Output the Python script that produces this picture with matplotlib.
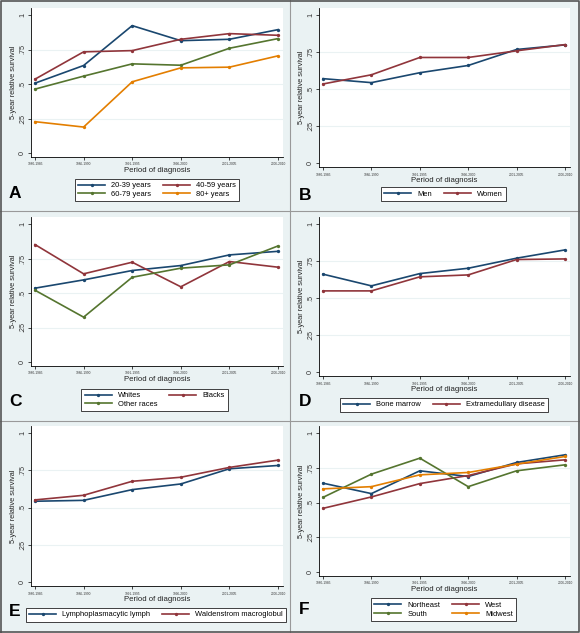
import matplotlib
matplotlib.use("Agg")
import matplotlib.pyplot as plt
from matplotlib.lines import Line2D

plt.rcParams["font.family"] = ["Liberation Sans", "DejaVu Sans"]

periods = ["1980-1985", "1986-1990", "1991-1995", "1996-2000", "2001-2005", "2006-2010"]
ytick_vals = [0, 0.25, 0.5, 0.75, 1]
ytick_labels = ["0", ".25", ".5", ".75", "1"]

# Panel A: age
a_labels = ["20-39 years", "40-59 years", "60-79 years", "80+ years"]
a_20_39 = [0.506, 0.634, 0.923, 0.814, 0.824, 0.894]
a_40_59 = [0.535, 0.733, 0.742, 0.824, 0.865, 0.853]
a_60_79 = [0.463, 0.557, 0.646, 0.636, 0.759, 0.829]
a_80 = [0.227, 0.188, 0.516, 0.617, 0.622, 0.704]

# Panel B: sex
b_labels = ["Men", "Women"]
b_men = [0.570, 0.543, 0.610, 0.659, 0.767, 0.798]
b_women = [0.534, 0.596, 0.713, 0.713, 0.758, 0.800]

# Panel C: race
c_labels = ["Whites", "Blacks", "Other races"]
c_whites = [0.535, 0.595, 0.663, 0.699, 0.776, 0.802]
c_blacks = [0.851, 0.639, 0.723, 0.545, 0.728, 0.687]
c_other = [0.520, 0.325, 0.614, 0.680, 0.704, 0.841]

# Panel D: site
d_labels = ["Bone marrow", "Extramedullary disease"]
d_bone = [0.661, 0.582, 0.665, 0.701, 0.769, 0.825]
d_extra = [0.548, 0.548, 0.643, 0.656, 0.760, 0.764]

# Panel E: histology
e_labels = ["Lymphoplasmacytic lymph", "Waldenstrom macroglobul"]
e_lympho = [0.542, 0.548, 0.620, 0.658, 0.760, 0.782]
e_walden = [0.551, 0.582, 0.676, 0.703, 0.769, 0.818]

# Panel F: region
f_labels = ["Northeast", "West", "South", "Midwest"]
f_northeast = [0.639, 0.564, 0.728, 0.687, 0.788, 0.843]
f_west = [0.458, 0.540, 0.636, 0.694, 0.778, 0.807]
f_south = [0.537, 0.704, 0.819, 0.614, 0.728, 0.771]
f_midwest = [0.598, 0.614, 0.699, 0.716, 0.776, 0.831]

NAVY = "#1a476f"
MAROON = "#90353b"
GREEN = "#55752f"
ORANGE = "#e37e00"
BG = "#eaf2f3"

W, H = 580, 633
fig = plt.figure(figsize=(W / 100, H / 100), dpi=100, facecolor=BG)

XLIM = (-0.08, 5.1)
YLIM = (-0.03, 1.05)


def fx(px):
    return px / W


def fy(py):
    return 1 - py / H


def row_major(items, ncol):
    nrow = -(-len(items) // ncol)
    out = []
    for c in range(ncol):
        for r in range(nrow):
            i = r * ncol + c
            if i < len(items):
                out.append(items[i])
    return out


panels = [
    ("A", [a_20_39, a_40_59, a_60_79, a_80], a_labels, [NAVY, MAROON, GREEN, ORANGE],
     35, 278, 15, 153, (77, 178, 237, 202), 2, (0, 0), 194),
    ("B", [b_men, b_women], b_labels, [NAVY, MAROON],
     323, 565, 15, 163, (384, 187, 503, 202), 2, (290, 0), 195),
    ("C", [c_whites, c_blacks, c_other], c_labels, [NAVY, MAROON, GREEN],
     35, 278, 224, 362, (86, 388, 223, 412), 2, (0, 210), 402),
    ("D", [d_bone, d_extra], d_labels, [NAVY, MAROON],
     323, 565, 224, 372, (343, 397, 545, 412), 2, (290, 210), 402),
    ("E", [e_lympho, e_walden], e_labels, [NAVY, MAROON],
     35, 278, 433, 582, (33, 607, 279, 622), 2, (0, 420), 611),
    ("F", [f_northeast, f_west, f_south, f_midwest], f_labels, [NAVY, MAROON, GREEN, ORANGE],
     323, 565, 433, 572, (374, 597, 513, 622), 2, (290, 420), 610),
]

for (letter, series, labels, colors, x0p, x5p, y1p, y0p, lbox, ncol, origin, lety) in panels:
    xs = (x5p - x0p) / 5.0
    ys = (y0p - y1p)
    left = x0p + XLIM[0] * xs
    right = x0p + XLIM[1] * xs
    top = y0p - YLIM[1] * ys
    bottom = y0p - YLIM[0] * ys
    ax = fig.add_axes([fx(left), fy(bottom), fx(right) - fx(left), fy(top) - fy(bottom)])
    ax.set_facecolor("white")
    ax.set_xlim(*XLIM)
    ax.set_ylim(*YLIM)
    for v in [0.25, 0.5, 0.75]:
        ax.axhline(v, color="#eaf2f3", lw=0.8, zorder=0)
    handles = []
    for s, lab, col in zip(series, labels, colors):
        ax.plot(range(len(periods)), s, color=col, lw=1.2, marker="o", ms=2.4,
                markeredgewidth=0, zorder=3)
        handles.append(Line2D([0], [0], color=col, lw=1.2, marker="o", ms=2.4,
                              markeredgewidth=0, label=lab))
    for sp in ["top", "right"]:
        ax.spines[sp].set_visible(False)
    for sp in ["left", "bottom"]:
        ax.spines[sp].set_color("black")
        ax.spines[sp].set_linewidth(0.6)
    ax.set_xticks(range(len(periods)))
    ax.set_xticklabels(periods, fontsize=2.3, color="#333333")
    ax.set_yticks(ytick_vals)
    ax.set_yticklabels(ytick_labels, fontsize=5.2, rotation=90, va="center", color="#333333")
    ax.tick_params(axis="both", direction="out", length=2.5, width=0.5, pad=1.2)
    ax.set_xlabel("Period of diagnosis", fontsize=5.6, labelpad=0.3, color="#222222")
    ax.set_ylabel("5-year relative survival", fontsize=5.3, labelpad=1.5, color="#222222")

    l, t, r, b = lbox
    leg = fig.legend(handles=row_major(handles, ncol), loc="center", ncol=ncol,
                     bbox_to_anchor=(fx((l + r) / 2), fy((t + b) / 2)),
                     prop={"size": 5.4}, frameon=True, fancybox=False, framealpha=1,
                     handlelength=3.6, handletextpad=0.8, columnspacing=1.6,
                     borderpad=0.45, labelspacing=0.2, borderaxespad=0)
    leg.get_frame().set_edgecolor("#222222")
    leg.get_frame().set_linewidth(0.6)
    leg.get_frame().set_facecolor("white")

    fig.text(fx(origin[0] + 9), fy(lety), letter, fontsize=12.5, fontweight="bold",
             ha="left", va="center", color="black", zorder=10)

sep = dict(color="#999999", lw=0.8, transform=fig.transFigure)
fig.add_artist(Line2D([fx(289.5), fx(289.5)], [0, 1], **sep))
fig.add_artist(Line2D([0, 1], [fy(210.5), fy(210.5)], **sep))
fig.add_artist(Line2D([0, 1], [fy(420.5), fy(420.5)], **sep))
brd = dict(color="#555555", lw=1.2, transform=fig.transFigure)
fig.add_artist(Line2D([0.001, 0.999, 0.999, 0.001, 0.001], [0.001, 0.001, 0.999, 0.999, 0.001], **brd))

fig.savefig("out.png", dpi=100, facecolor=BG)
